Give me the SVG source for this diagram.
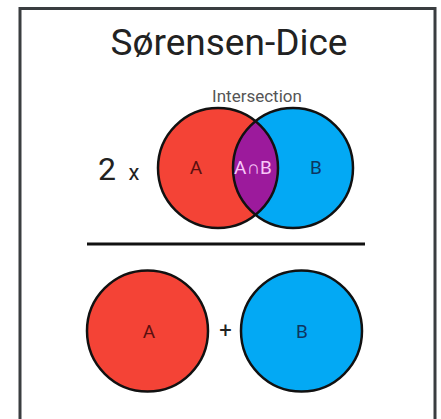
<svg xmlns="http://www.w3.org/2000/svg" width="441" height="419" viewBox="0 0 441 419">
<style>
text{font-family:Roboto,"Liberation Sans",sans-serif;text-anchor:middle}
.circ{stroke:#111;stroke-width:2.5}
.red{fill:#f44336}
.blue{fill:#03a9f4}
.la{fill:#5a1010;font-size:19px}
.lb{fill:#0d3560;font-size:19px}
</style>
<rect width="441" height="419" fill="#fff"/>
<rect x="20" y="8.5" width="415" height="430" fill="#fff" stroke="#3a3d40" stroke-width="3"/>
<text x="229" y="55" font-size="37" fill="#222">Sørensen-Dice</text>
<text x="257" y="102" font-size="17" fill="#555">Intersection</text>
<text x="107" y="180" font-size="32" fill="#222">2</text>
<text x="134" y="180" font-size="22" fill="#222">x</text>
<defs>
<clipPath id="cA"><circle cx="218" cy="168" r="60"/></clipPath>
</defs>
<g id="venn">
<circle class="red" cx="218" cy="168" r="60"/>
<circle class="blue" cx="293" cy="168" r="60"/>
<circle cx="293" cy="168" r="60" fill="#9c1a9c" clip-path="url(#cA)"/>
<circle cx="218" cy="168" r="60" fill="none" stroke="#111" stroke-width="2.5"/>
<circle cx="293" cy="168" r="60" fill="none" stroke="#111" stroke-width="2.5"/>
<text class="la" x="196" y="174">A</text>
<text x="253" y="174" font-size="19" fill="#f8c8f8">A∩B</text>
<text class="lb" x="316" y="174">B</text>
</g>
<line x1="87" y1="244" x2="365" y2="244" stroke="#111" stroke-width="3"/>
<g id="setA">
<circle class="circ red" cx="147.5" cy="331" r="60.5"/>
<text class="la" x="149" y="338">A</text>
</g>
<text x="225.5" y="338" font-size="22" fill="#222">+</text>
<g id="setB">
<circle class="circ blue" cx="301.5" cy="331" r="60.5"/>
<text class="lb" x="302" y="338">B</text>
</g>
</svg>
